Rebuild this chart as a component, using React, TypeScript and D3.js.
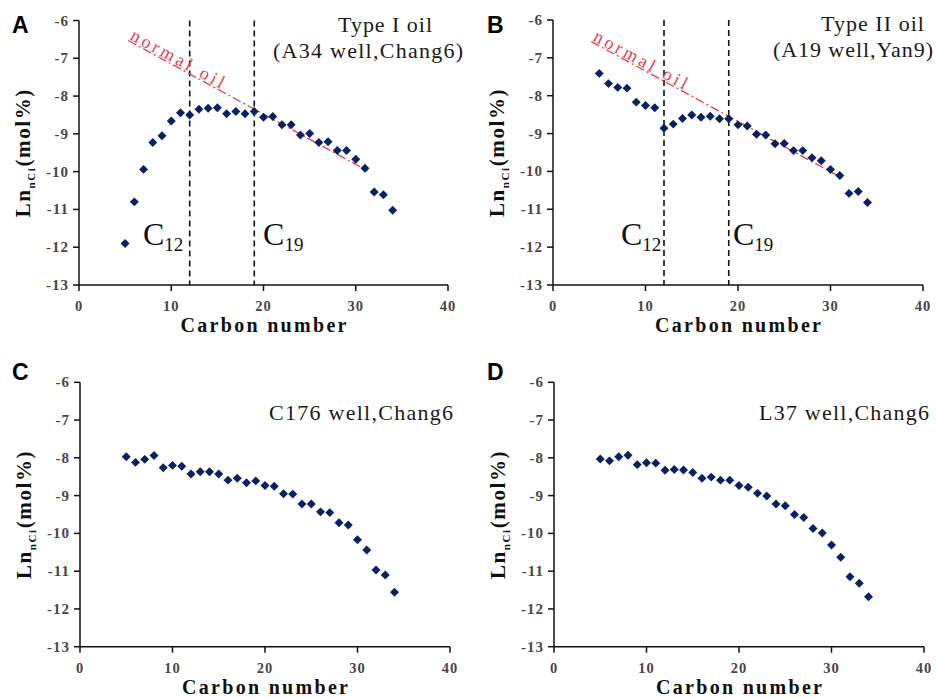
import React from "react";
import * as d3 from "d3";

const carbonNumbers = [5,6,7,8,9,10,11,12,13,14,15,16,17,18,19,20,21,22,23,24,25,26,27,28,29,30,31,32,33,34];
const valuesA = [-11.90,-10.80,-9.94,-9.23,-9.05,-8.66,-8.44,-8.50,-8.35,-8.32,-8.31,-8.47,-8.41,-8.47,-8.41,-8.56,-8.54,-8.76,-8.76,-9.03,-8.99,-9.23,-9.21,-9.44,-9.44,-9.67,-9.91,-10.54,-10.61,-11.02];
const valuesB = [-7.41,-7.68,-7.78,-7.80,-8.17,-8.26,-8.32,-8.86,-8.75,-8.60,-8.51,-8.57,-8.54,-8.61,-8.61,-8.77,-8.80,-9.02,-9.04,-9.27,-9.26,-9.45,-9.45,-9.64,-9.72,-9.95,-10.11,-10.58,-10.53,-10.82];
const valuesC = [-7.97,-8.12,-8.04,-7.94,-8.26,-8.20,-8.22,-8.43,-8.37,-8.37,-8.43,-8.59,-8.54,-8.66,-8.61,-8.73,-8.75,-8.95,-8.96,-9.22,-9.22,-9.43,-9.45,-9.72,-9.78,-10.17,-10.44,-10.97,-11.10,-11.56];
const valuesD = [-8.03,-8.08,-7.97,-7.93,-8.18,-8.13,-8.14,-8.33,-8.31,-8.32,-8.39,-8.54,-8.51,-8.59,-8.59,-8.73,-8.78,-8.94,-9.01,-9.22,-9.27,-9.50,-9.58,-9.87,-9.99,-10.31,-10.63,-11.15,-11.32,-11.68];

const xTicks = [0, 10, 20, 30, 40];
const yTicks = [-6, -7, -8, -9, -10, -11, -12, -13];
const cutoffs = [12, 19];
const normalOilA: [number, number][] = [[5.34, -6.53], [31.3, -9.98]];
const normalOilB: [number, number][] = [[4.14, -6.57], [31.3, -10.18]];

const SERIF = "Liberation Serif";
const SANS = "Liberation Sans";
const NAVY = "#0a2060";
const RED = "#e53a50";

type Ann = { text: string; x: number; y: number; len: number };
type PanelDef = {
  letter: string;
  values: number[];
  x0: number; x1: number; yTop: number; yBot: number;
  letterX: number; letterY: number;
  ann: Ann[];
  normal?: [number, number][];
  cLabels?: { c: string; x: number }[];
};

const panels: PanelDef[] = [
  {
    letter: "A", values: valuesA, x0: 79, x1: 448, yTop: 20.5, yBot: 285,
    letterX: 12, letterY: 33,
    ann: [
      { text: "Type I oil", x: 28.08, y: -6.30, len: 94 },
      { text: "(A34 well,Chang6)", x: 21.03, y: -6.99, len: 190 },
    ],
    normal: normalOilA,
    cLabels: [{ c: "12", x: 6.94 }, { c: "19", x: 19.95 }],
  },
  {
    letter: "B", values: valuesB, x0: 553, x1: 923, yTop: 20, yBot: 285,
    letterX: 487, letterY: 33,
    ann: [
      { text: "Type II oil", x: 28.97, y: -6.30, len: 103 },
      { text: "(A19 well,Yan9)", x: 23.78, y: -6.99, len: 160 },
    ],
    normal: normalOilB,
    cLabels: [{ c: "12", x: 7.35 }, { c: "19", x: 19.46 }],
  },
  {
    letter: "C", values: valuesC, x0: 80, x1: 450, yTop: 382.3, yBot: 646.7,
    letterX: 12, letterY: 380,
    ann: [{ text: "C176 well,Chang6", x: 20.43, y: -7.0, len: 184 }],
  },
  {
    letter: "D", values: valuesD, x0: 554, x1: 924, yTop: 382.3, yBot: 646.7,
    letterX: 487, letterY: 380,
    ann: [{ text: "L37 well,Chang6", x: 22.16, y: -7.0, len: 170 }],
  },
];

const diamond = d3.symbol().type(d3.symbolSquare).size(40)() as string;
const serif = { fontFamily: SERIF };

function Panel({ p }: { p: PanelDef }) {
  const x = d3.scaleLinear().domain([0, 40]).range([p.x0, p.x1]);
  const y = d3.scaleLinear().domain([-13, -6]).range([p.yBot, p.yTop]);
  const yMid = (p.yTop + p.yBot) / 2;
  let normalEl = null;
  if (p.normal) {
    const [a, b] = p.normal;
    const ax = x(a[0]), ay = y(a[1]), bx = x(b[0]), by = y(b[1]);
    const ang = (Math.atan2(by - ay, bx - ax) * 180) / Math.PI;
    normalEl = (
      <g>
        <line x1={ax} y1={ay} x2={bx} y2={by} stroke={RED} strokeWidth={1.3} strokeDasharray="9,3,2,3" />
        <text
          transform={`translate(${ax + 1},${ay - 1.5}) rotate(${ang})`}
          style={serif} fontSize={18} fill={RED}
          textLength={104} lengthAdjust="spacing"
        >normal oil</text>
      </g>
    );
  }
  return (
    <g>
      <text x={p.letterX} y={p.letterY} style={{ fontFamily: SANS }} fontWeight="bold" fontSize={23} fill="#000">{p.letter}</text>
      {/* y label */}
      <text
        transform={`translate(${p.x0 - 49},${yMid}) rotate(-90)`}
        textAnchor="middle" style={serif} fontWeight="bold" fontSize={21} fill="#111" letterSpacing={1.6}
      >
        Ln<tspan fontSize={11} dy={5}>nCi</tspan><tspan dy={-5}>(mol%)</tspan>
      </text>
      {/* cutoff dashed lines */}
      {p.cLabels && cutoffs.map((c) => (
        <line key={c} x1={x(c)} x2={x(c)} y1={y(-6)} y2={y(-13)} stroke="#111" strokeWidth={1.6} strokeDasharray="6,4" />
      ))}
      {p.cLabels && p.cLabels.map((cl) => (
        <text key={cl.c} x={x(cl.x)} y={y(-11.94)} style={serif} fontSize={32} fill="#111">
          C<tspan fontSize={19} dy={6}>{cl.c}</tspan>
        </text>
      ))}
      {normalEl}
      {/* axes */}
      <line x1={p.x0} x2={p.x0} y1={y(-6)} y2={y(-13)} stroke="#111" strokeWidth={1.5} />
      <line x1={p.x0} x2={p.x1} y1={y(-13)} y2={y(-13)} stroke="#111" strokeWidth={1.5} />
      {yTicks.map((t) => (
        <g key={t}>
          <line x1={p.x0 - 6} x2={p.x0} y1={y(t)} y2={y(t)} stroke="#111" strokeWidth={1.5} />
          <text x={p.x0 - 10} y={y(t) + 5} textAnchor="end" style={serif} fontWeight="bold" fontSize={15} fill="#4a4545" letterSpacing={1}>{t}</text>
        </g>
      ))}
      {xTicks.map((t) => (
        <g key={t}>
          <line x1={x(t)} x2={x(t)} y1={y(-13)} y2={y(-13) + 6} stroke="#111" strokeWidth={1.5} />
          <text x={x(t)} y={y(-13) + 26} textAnchor="middle" style={serif} fontWeight="bold" fontSize={14.5} fill="#4a4545" letterSpacing={1}>{t}</text>
        </g>
      ))}
      <text x={(p.x0 + p.x1) / 2} y={y(-13) + 47} textAnchor="middle" style={serif} fontWeight="bold" fontSize={20} fill="#111" textLength={166} lengthAdjust="spacing">Carbon number</text>
      {/* annotations */}
      {p.ann.map((a) => (
        <text key={a.text} x={x(a.x)} y={y(a.y)} style={serif} fontSize={22} fill="#1a1a1a" textLength={a.len} lengthAdjust="spacing">{a.text}</text>
      ))}
      {/* points */}
      {carbonNumbers.map((c, i) => (
        <path key={c} d={diamond} transform={`translate(${x(c)},${y(p.values[i])}) rotate(45)`} fill={NAVY} />
      ))}
    </g>
  );
}

export default function App() {
  return (
    <svg width={936} height={699} style={{ position: "absolute", left: 0, top: 0, background: "#fff" }}>
      <rect width={936} height={699} fill="#fff" />
      {panels.map((p) => (
        <Panel key={p.letter} p={p} />
      ))}
    </svg>
  );
}
